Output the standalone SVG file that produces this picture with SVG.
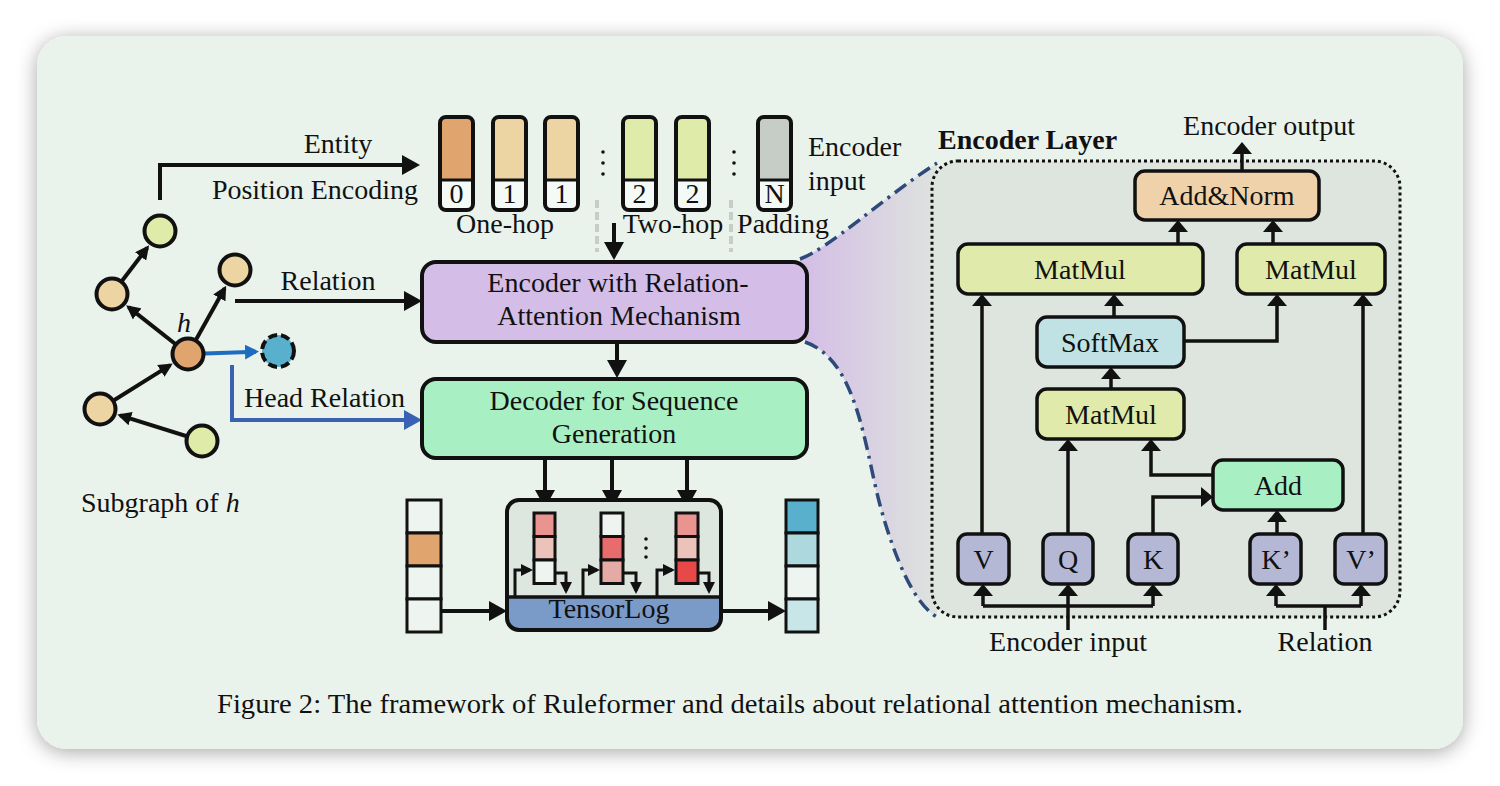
<svg xmlns="http://www.w3.org/2000/svg" width="1500" height="786" viewBox="0 0 1500 786">
<defs>
<style>
.t{font-family:"Liberation Serif","Times New Roman",serif;font-size:28px;fill:#111}
.c{text-anchor:middle}
.ln{fill:none;stroke:#111;stroke-width:4}
.lb{fill:none;stroke:#111;stroke-width:3.5}
.box{stroke:#111;stroke-width:4}
.lbox{stroke:#111;stroke-width:3.5}
.nd{stroke:#111;stroke-width:4}
.cell{stroke:#111;stroke-width:3}
</style>
<filter id="sh" x="-5%" y="-6%" width="110%" height="114%">
<feDropShadow dx="0" dy="3" stdDeviation="10" flood-color="#000" flood-opacity="0.35"/>
</filter>
<linearGradient id="fan" gradientUnits="userSpaceOnUse" x1="800" y1="0" x2="940" y2="0">
<stop offset="0" stop-color="#d4bde6"/>
<stop offset="1" stop-color="#dee4de"/>
</linearGradient>
<clipPath id="tlclip"><rect x="507" y="500" width="214" height="130" rx="12"/></clipPath>
<marker id="ah" markerUnits="userSpaceOnUse" markerWidth="18" markerHeight="20" refX="14" refY="10" orient="auto"><path d="M0,0 L18,10 L0,20 z" fill="#111"/></marker>
<marker id="ab" markerUnits="userSpaceOnUse" markerWidth="18" markerHeight="20" refX="14" refY="10" orient="auto"><path d="M0,0 L18,10 L0,20 z" fill="#3a62b4"/></marker>
<marker id="ag" markerUnits="userSpaceOnUse" markerWidth="14" markerHeight="14" refX="11" refY="7" orient="auto"><path d="M0,0 L14,7 L0,14 z" fill="#111"/></marker>
<marker id="abs" markerUnits="userSpaceOnUse" markerWidth="14" markerHeight="15" refX="11" refY="7.5" orient="auto"><path d="M0,0 L14,7.5 L0,15 z" fill="#1e6cc0"/></marker>
<marker id="as" markerUnits="userSpaceOnUse" markerWidth="12" markerHeight="20" refX="9" refY="10" orient="auto"><path d="M0,0 L12,10 L0,20 z" fill="#111"/></marker>
<marker id="at" markerUnits="userSpaceOnUse" markerWidth="12" markerHeight="12" refX="9" refY="6" orient="auto"><path d="M0,0 L12,6 L0,12 z" fill="#111"/></marker>
</defs>
<rect width="1500" height="786" fill="#ffffff"/>
<rect id="frame" x="37" y="36" width="1426" height="713" rx="30" fill="#e9f3ec" filter="url(#sh)"/>

<!-- zoom fan -->
<g id="fan-shape">
<path d="M800,259 C830,248 880,200 937,163 L937,617 C915,605 895,560 880,505 C865,450 858,360 805,342 Z" fill="url(#fan)"/>
<path d="M800,259 C830,248 880,200 937,163" fill="none" stroke="#2e4a7a" stroke-width="3.5" stroke-dasharray="14,6,3,6"/>
<path d="M805,342 C858,360 865,450 880,505 C895,560 915,605 937,617" fill="none" stroke="#2e4a7a" stroke-width="3.5" stroke-dasharray="14,6,3,6"/>
</g>

<!-- connectors -->
<g id="connectors">
<path class="ln" d="M160,200 V165 H416" marker-end="url(#ah)"/>
<path class="ln" d="M235,301 H418" marker-end="url(#ah)"/>
<path d="M232,365 V420 H418" fill="none" stroke="#3a62b4" stroke-width="4" marker-end="url(#ab)"/>
<path class="ln" d="M100,409 L170.2,365.1" marker-end="url(#ag)"/>
<path class="ln" d="M202,441 L120.1,415.3" marker-end="url(#ag)"/>
<path class="ln" d="M188,354 L128.5,307.1" marker-end="url(#ag)"/>
<path class="ln" d="M112,294 L147.3,247.7" marker-end="url(#ag)"/>
<path class="ln" d="M188,354 L224.7,288.3" marker-end="url(#ag)"/>
<path d="M205,353.4 L256,351.7" fill="none" stroke="#1e6cc0" stroke-width="4" marker-end="url(#abs)"/>
<line x1="597" y1="200" x2="597" y2="252" stroke="#c6cdc7" stroke-width="4" stroke-dasharray="8,4"/>
<line x1="731" y1="200" x2="731" y2="252" stroke="#c6cdc7" stroke-width="4" stroke-dasharray="8,4"/>
<path class="ln" d="M614,223 V256" marker-end="url(#ah)"/>
<path class="ln" d="M617,342 V374" marker-end="url(#ah)"/>
<path class="ln" d="M545,458 V504" marker-end="url(#ah)"/>
<path class="ln" d="M612,458 V504" marker-end="url(#ah)"/>
<path class="ln" d="M687,458 V504" marker-end="url(#ah)"/>
<path class="ln" d="M441,611 H503" marker-end="url(#ah)"/>
<path class="ln" d="M721,611 H782" marker-end="url(#ah)"/>
</g>

<!-- subgraph nodes -->
<g id="subgraph">
<circle id="n-top" cx="160" cy="231" r="15.5" fill="#dfeba8" class="nd"/>
<circle id="n-left" cx="112" cy="294" r="15.5" fill="#ecd5a2" class="nd"/>
<circle id="n-right" cx="235" cy="270" r="15.5" fill="#ecd5a2" class="nd"/>
<circle id="n-h" cx="188" cy="354" r="15.5" fill="#e0a46e" class="nd"/>
<circle id="n-target" cx="278" cy="351" r="16" fill="#58b0cc" stroke="#111" stroke-width="4" stroke-dasharray="9,4"/>
<circle id="n-ll" cx="100" cy="409" r="15.5" fill="#ecd5a2" class="nd"/>
<circle id="n-br" cx="202" cy="441" r="15.5" fill="#dfeba8" class="nd"/>
<text class="t" x="177" y="332" font-style="italic">h</text>
<text class="t" x="81" y="512">Subgraph of <tspan font-style="italic">h</tspan></text>
</g>

<g id="labels-left">
<text class="t c" x="338" y="153">Entity</text>
<text class="t" x="418" y="199" text-anchor="end">Position Encoding</text>
<text class="t c" x="328" y="290">Relation</text>
<text class="t" x="244" y="407">Head Relation</text>
</g>

<!-- tokens -->
<g id="tokens">
<g id="tok0"><rect x="440" y="117" width="33" height="93" rx="6" fill="#e0a46e"/><rect x="442" y="180" width="29" height="28" fill="#f4faf5"/><line x1="440" y1="180" x2="473" y2="180" stroke="#111" stroke-width="3"/><rect x="440" y="117" width="33" height="93" rx="6" fill="none" stroke="#111" stroke-width="4"/><text class="t c" x="456.5" y="203" font-size="25">0</text></g>
<g id="tok1"><rect x="493" y="117" width="33" height="93" rx="6" fill="#ecd5a2"/><rect x="495" y="180" width="29" height="28" fill="#f4faf5"/><line x1="493" y1="180" x2="526" y2="180" stroke="#111" stroke-width="3"/><rect x="493" y="117" width="33" height="93" rx="6" fill="none" stroke="#111" stroke-width="4"/><text class="t c" x="509.5" y="203" font-size="25">1</text></g>
<g id="tok2"><rect x="545" y="117" width="33" height="93" rx="6" fill="#ecd5a2"/><rect x="547" y="180" width="29" height="28" fill="#f4faf5"/><line x1="545" y1="180" x2="578" y2="180" stroke="#111" stroke-width="3"/><rect x="545" y="117" width="33" height="93" rx="6" fill="none" stroke="#111" stroke-width="4"/><text class="t c" x="561.5" y="203" font-size="25">1</text></g>
<g id="tok3"><rect x="623" y="117" width="33" height="93" rx="6" fill="#dfeba8"/><rect x="625" y="180" width="29" height="28" fill="#f4faf5"/><line x1="623" y1="180" x2="656" y2="180" stroke="#111" stroke-width="3"/><rect x="623" y="117" width="33" height="93" rx="6" fill="none" stroke="#111" stroke-width="4"/><text class="t c" x="639.5" y="203" font-size="25">2</text></g>
<g id="tok4"><rect x="676" y="117" width="33" height="93" rx="6" fill="#dfeba8"/><rect x="678" y="180" width="29" height="28" fill="#f4faf5"/><line x1="676" y1="180" x2="709" y2="180" stroke="#111" stroke-width="3"/><rect x="676" y="117" width="33" height="93" rx="6" fill="none" stroke="#111" stroke-width="4"/><text class="t c" x="692.5" y="203" font-size="25">2</text></g>
<g id="tok5"><rect x="758" y="117" width="33" height="93" rx="6" fill="#c6cdc7"/><rect x="760" y="180" width="29" height="28" fill="#f4faf5"/><line x1="758" y1="180" x2="791" y2="180" stroke="#111" stroke-width="3"/><rect x="758" y="117" width="33" height="93" rx="6" fill="none" stroke="#111" stroke-width="4"/><text class="t c" x="774.5" y="203" font-size="25">N</text></g>
<g fill="#111"><circle cx="603" cy="152" r="1.8"/><circle cx="603" cy="163" r="1.8"/><circle cx="603" cy="174" r="1.8"/><circle cx="734" cy="152" r="1.8"/><circle cx="734" cy="163" r="1.8"/><circle cx="734" cy="174" r="1.8"/></g>
<text class="t" x="808" y="156">Encoder</text>
<text class="t" x="808" y="190">input</text>
<text class="t c" x="505" y="233">One-hop</text>
<text class="t c" x="673" y="233">Two-hop</text>
<text class="t c" x="783" y="233">Padding</text>
</g>

<g id="encoder">
<rect x="422" y="262" width="385" height="80" rx="14" fill="#d4bde6" class="box"/>
<text class="t c" x="618" y="292">Encoder with Relation-</text>
<text class="t c" x="619" y="325">Attention Mechanism</text>
</g>
<g id="decoder">
<rect x="422" y="379" width="385" height="79" rx="14" fill="#a8f0c4" class="box"/>
<text class="t c" x="614" y="410">Decoder for Sequence</text>
<text class="t c" x="614" y="443">Generation</text>
</g>

<g id="input-vector">
<rect x="407" y="500" width="34" height="33" fill="#eef5f0" class="cell" stroke-width="4"/>
<rect x="407" y="533" width="34" height="33" fill="#e0a46e" class="cell" stroke-width="4"/>
<rect x="407" y="566" width="34" height="33" fill="#eef5f0" class="cell" stroke-width="4"/>
<rect x="407" y="599" width="34" height="33" fill="#eef5f0" class="cell" stroke-width="4"/>
</g>
<g id="output-vector">
<rect x="786" y="500" width="32" height="33" fill="#58b0cc" class="cell" stroke-width="4"/>
<rect x="786" y="533" width="32" height="33" fill="#acd8de" class="cell" stroke-width="4"/>
<rect x="786" y="566" width="32" height="33" fill="#eef5f0" class="cell" stroke-width="4"/>
<rect x="786" y="599" width="32" height="33" fill="#c8e6e8" class="cell" stroke-width="4"/>
</g>

<g id="tensorlog">
<rect x="507" y="500" width="214" height="130" rx="12" fill="#dee6e0"/>
<rect x="507" y="597" width="214" height="34" fill="#7a9ac8" clip-path="url(#tlclip)"/>
<line x1="507" y1="597" x2="721" y2="597" stroke="#111" stroke-width="3.5"/>
<rect x="507" y="500" width="214" height="130" rx="12" fill="none" class="box"/>
<text class="t c" x="609" y="618">TensorLog</text>
<g>
<rect x="534" y="513" width="21" height="23.5" fill="#e99490" class="cell"/>
<rect x="534" y="536.5" width="21" height="23.5" fill="#ecc3bb" class="cell"/>
<rect x="534" y="560" width="21" height="23.5" fill="#eef5f0" class="cell"/>
<rect x="601" y="513" width="22" height="23.5" fill="#eef5f0" class="cell"/>
<rect x="601" y="536.5" width="22" height="23.5" fill="#e86c6c" class="cell"/>
<rect x="601" y="560" width="22" height="23.5" fill="#e6aaa4" class="cell"/>
<rect x="676" y="513" width="22" height="23.5" fill="#e99490" class="cell"/>
<rect x="676" y="536.5" width="22" height="23.5" fill="#ecc3bb" class="cell"/>
<rect x="676" y="560" width="22" height="23.5" fill="#e84848" class="cell"/>
</g>
<g fill="#111"><circle cx="646" cy="539" r="1.8"/><circle cx="646" cy="548" r="1.8"/><circle cx="646" cy="557" r="1.8"/></g>
<g fill="none" stroke="#111" stroke-width="3">
<path d="M515,597 V570 H530" marker-end="url(#at)"/>
<path d="M555,573 H566 V591" marker-end="url(#at)"/>
<path d="M583,597 V570 H597" marker-end="url(#at)"/>
<path d="M623,573 H636 V591" marker-end="url(#at)"/>
<path d="M657,597 V570 H672" marker-end="url(#at)"/>
<path d="M698,573 H709 V591" marker-end="url(#at)"/>
</g>
</g>

<!-- Encoder layer detail -->
<g id="encoder-layer">
<rect x="932" y="161" width="468" height="456" rx="26" fill="#dee4de" stroke="#111" stroke-width="3" stroke-dasharray="3,3"/>
<text class="t" x="938" y="149" font-weight="bold">Encoder Layer</text>
<text class="t c" x="1269" y="135">Encoder output</text>
<text class="t c" x="1068" y="651">Encoder input</text>
<text class="t c" x="1325" y="651">Relation</text>
</g>

<g id="layer-connectors">
<path class="lb" d="M1242,171 V145" marker-end="url(#as)"/>
<path class="lb" d="M1178,244 V223" marker-end="url(#as)"/>
<path class="lb" d="M1273,244 V223" marker-end="url(#as)"/>
<path class="lb" d="M982,534 V297" marker-end="url(#as)"/>
<path class="lb" d="M1363,534 V297" marker-end="url(#as)"/>
<path class="lb" d="M1114,317 V297" marker-end="url(#as)"/>
<path class="lb" d="M1184,341 H1277 V297" marker-end="url(#as)"/>
<path class="lb" d="M1111,389 V370" marker-end="url(#as)"/>
<path class="lb" d="M1068,534 V442" marker-end="url(#as)"/>
<path class="lb" d="M1213,475 H1151 V442" marker-end="url(#as)"/>
<path class="lb" d="M1153,534 V497 H1210" marker-end="url(#as)"/>
<path class="lb" d="M1277,534 V513" marker-end="url(#as)"/>
<path class="lb" d="M1068,630 V606"/>
<path class="lb" d="M983,606 H1153"/>
<path class="lb" d="M983,606 V587" marker-end="url(#as)"/>
<path class="lb" d="M1068,606 V587" marker-end="url(#as)"/>
<path class="lb" d="M1153,606 V587" marker-end="url(#as)"/>
<path class="lb" d="M1325,630 V606"/>
<path class="lb" d="M1276,606 H1361"/>
<path class="lb" d="M1276,606 V587" marker-end="url(#as)"/>
<path class="lb" d="M1361,606 V587" marker-end="url(#as)"/>
</g>

<g id="add-norm"><rect x="1135" y="171" width="184" height="49" rx="10" fill="#f0d2aa" class="lbox"/><text class="t c" x="1227" y="205">Add&amp;Norm</text></g>
<g id="matmul-left"><rect x="958" y="244" width="245" height="50" rx="10" fill="#e0eaaa" class="lbox"/><text class="t c" x="1080" y="279">MatMul</text></g>
<g id="matmul-right"><rect x="1237" y="244" width="148" height="50" rx="10" fill="#e0eaaa" class="lbox"/><text class="t c" x="1311" y="279">MatMul</text></g>
<g id="softmax"><rect x="1037" y="317" width="147" height="50" rx="10" fill="#c0e2e4" class="lbox"/><text class="t c" x="1110" y="352">SoftMax</text></g>
<g id="matmul-bottom"><rect x="1037" y="389" width="147" height="50" rx="10" fill="#e0eaaa" class="lbox"/><text class="t c" x="1111" y="424">MatMul</text></g>
<g id="add"><rect x="1213" y="460" width="130" height="50" rx="10" fill="#a8f0c4" class="lbox"/><text class="t c" x="1278" y="495">Add</text></g>
<g id="v"><rect x="958" y="534" width="51" height="50" rx="9" fill="#b4b8d4" class="lbox"/><text class="t c" x="983.5" y="569">V</text></g>
<g id="q"><rect x="1043" y="534" width="50" height="50" rx="9" fill="#b4b8d4" class="lbox"/><text class="t c" x="1068" y="569">Q</text></g>
<g id="k"><rect x="1128" y="534" width="50" height="50" rx="9" fill="#b4b8d4" class="lbox"/><text class="t c" x="1153" y="569">K</text></g>
<g id="k-prime"><rect x="1250" y="534" width="51" height="50" rx="9" fill="#b4b8d4" class="lbox"/><text class="t c" x="1276" y="569">K’</text></g>
<g id="v-prime"><rect x="1335" y="534" width="51" height="50" rx="9" fill="#b4b8d4" class="lbox"/><text class="t c" x="1361" y="569">V’</text></g>

<text id="caption" class="t c" x="730" y="713" textLength="1026" lengthAdjust="spacingAndGlyphs">Figure 2: The framework of Ruleformer and details about relational attention mechanism.</text>
</svg>
